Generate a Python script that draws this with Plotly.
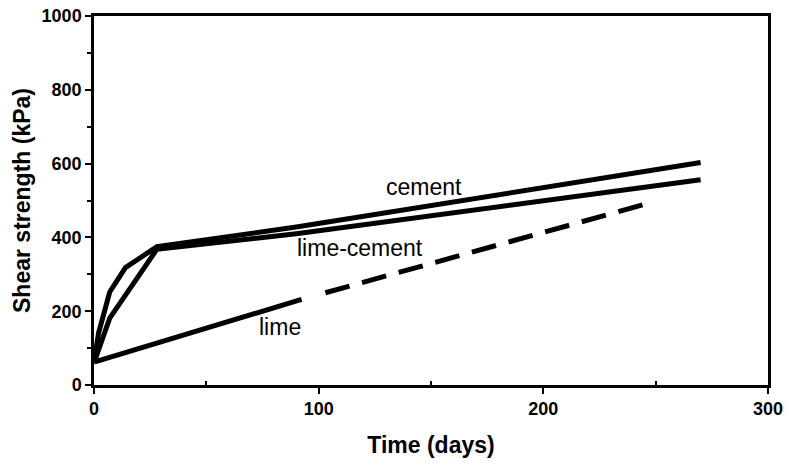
import plotly.graph_objects as go

cement_x = [0, 2, 7, 14, 28, 90, 270]
cement_y = [60, 140, 252, 318, 375, 428, 603]
limecem_x = [0, 7, 28, 90, 270]
limecem_y = [60, 181, 368, 410, 556]
lime_solid_x = [0, 92.4]
lime_solid_y = [62, 232]
lime_dash_x = [103, 247.7]
lime_dash_y = [250, 494]

labels = ["cement", "lime-cement", "lime"]
label_x = [147, 118.5, 83]
label_y = [537, 370, 156]

FONT = "Liberation Sans, Arial"
fig = go.Figure()
lw = 5
fig.add_trace(go.Scatter(x=cement_x, y=cement_y, mode="lines", line=dict(color="black", width=lw)))
fig.add_trace(go.Scatter(x=limecem_x, y=limecem_y, mode="lines", line=dict(color="black", width=lw)))
fig.add_trace(go.Scatter(x=lime_solid_x, y=lime_solid_y, mode="lines", line=dict(color="black", width=lw)))
fig.add_trace(go.Scatter(x=lime_dash_x, y=lime_dash_y, mode="lines", line=dict(color="black", width=lw, dash="25px,13px")))

for t, x, y in zip(labels, label_x, label_y):
    fig.add_annotation(x=x, y=y, text=t, showarrow=False,
                       font=dict(family=FONT, size=23, color="black"))

axis_common = dict(
    showgrid=False, zeroline=False, showline=True, linecolor="black", linewidth=2.5,
    mirror=True, ticks="outside", ticklen=6, tickwidth=2, tickcolor="black", automargin=False,
    ticklabeloverflow="allow",
    tickfont=dict(family=FONT, size=18, color="black", weight="bold"),
)
fig.update_xaxes(range=[0, 300], tickvals=[0, 100, 200, 300],
                 minor=dict(tickvals=[50, 150, 250], ticks="inside", ticklen=4, tickcolor="black"),
                 title=dict(text="Time (days)", font=dict(family=FONT, size=23, color="black", weight="bold"), standoff=19),
                 **axis_common)
fig.update_yaxes(range=[0, 1000], tickvals=[0, 200, 400, 600, 800, 1000],
                 minor=dict(tickvals=[100, 300, 500, 700, 900], ticks="outside", ticklen=4, tickcolor="black"),
                 title=dict(text="Shear strength (kPa)", font=dict(family=FONT, size=23, color="black", weight="bold"), standoff=5),
                 **axis_common)
fig.update_layout(width=789, height=465, showlegend=False,
                  margin=dict(l=94, r=21, t=16, b=80),
                  plot_bgcolor="white", paper_bgcolor="white")
fig.write_html("out.html", config={"displayModeBar": False},
               post_script="document.body.style.margin='0';")
